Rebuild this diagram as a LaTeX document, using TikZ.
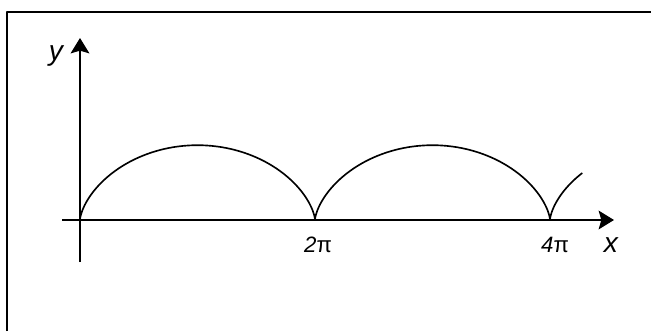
\documentclass[tikz,border=0pt]{standalone}
\usepackage{fontspec}
\setmainfont{Liberation Sans}
\usetikzlibrary{arrows.meta}

\begin{document}
\begin{tikzpicture}[x=0.3mm,y=0.3mm,>={Stealth[length=4.6mm,width=5.6mm,inset=0.8mm]},line join=round]
\useasboundingbox (-80,-111) rectangle (571,220);
\coordinate (o) at (0,0);
\coordinate (xs) at (-18,0);
\coordinate (xe) at (534,0);
\coordinate (ys) at (0,-42);
\coordinate (ye) at (0,182);
\coordinate (fb) at (-73,-111);
\coordinate (fc) at (-73,208);
\coordinate (fr) at (571,208);
% frame, only top and left side show
\draw[line width=1.7pt] (fb) -- (fc) -- (fr);
\draw[->,line width=1.7pt] (xs) -- (xe);
\draw[->,line width=1.7pt] (ys) -- (ye);
\draw[line width=1.4pt,domain=0:2*pi,samples=120,variable=\t] plot ({37.4*(\t-sin(\t r))},{37.4*(1-cos(\t r))});
\draw[line width=1.4pt,domain=2*pi:4*pi,samples=120,variable=\t] plot ({37.4*(\t-sin(\t r))},{37.4*(1-cos(\t r))});
\draw[line width=1.4pt,domain=4*pi:4*pi+1.83,samples=40,variable=\t] plot ({37.4*(\t-sin(\t r))},{37.4*(1-cos(\t r))});
\node[font=\fontsize{24}{28}\selectfont\itshape] (ylab) at (-24,164) {y};
\node[font=\fontsize{24}{28}\selectfont\itshape] (xlab) at (531,-25) {x};
\node[font=\fontsize{19}{22}\selectfont] (twopi) at (238,-25) {\textit{2}π};
\node[font=\fontsize{19}{22}\selectfont] (fourpi) at (475,-25) {\textit{4}π};
\end{tikzpicture}
\end{document}
